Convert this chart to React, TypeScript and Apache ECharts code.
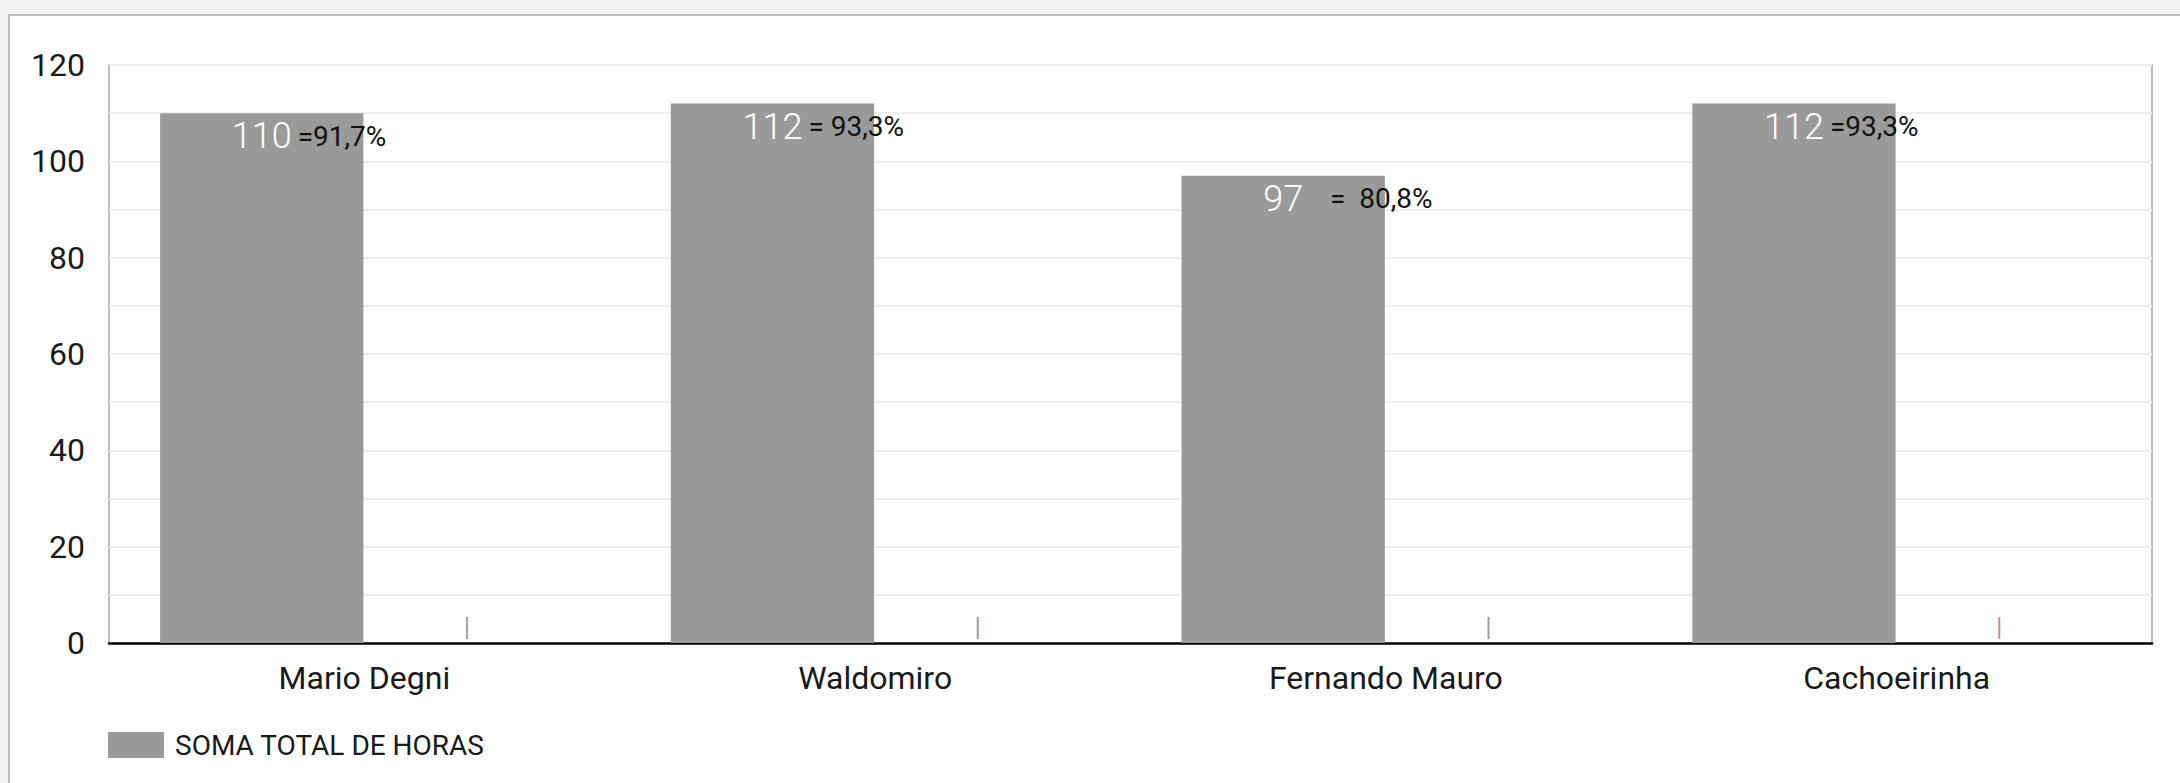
import React, { useEffect, useRef } from "react";
import * as echarts from "echarts";

const categories = ["Mario Degni", "Waldomiro", "Fernando Mauro", "Cachoeirinha"];
const totalHours = [110, 112, 97, 112];
const percentTexts = [
  "=91,7%",
  "=\u00a093,3%",
  "\u00a0\u00a0\u00a0=\u00a0\u00a080,8%",
  "=93,3%",
];
const emptySeries = [0, 0, 0, 0];
const seriesName = "SOMA TOTAL DE HORAS";

const PCT_FONT = 28;
const PCT_PAD = 6;

function measure(text: string, font: string): number {
  const c = document.createElement("canvas");
  const ctx = c.getContext("2d");
  if (!ctx) return text.length * 14;
  ctx.font = font;
  return ctx.measureText(text).width;
}

export default function App() {
  const ref = useRef<HTMLDivElement>(null);

  useEffect(() => {
    if (!ref.current) return;
    const chart = echarts.init(ref.current, undefined, { renderer: "svg" });

    const rich: any = {
      v: {
        color: "#ffffff",
        fontSize: 36,
        fontWeight: 300,
        fontFamily: "Roboto",
        verticalAlign: "middle",
      },
      p: {
        padding: [0, 0, 0, PCT_PAD],
        color: "#111111",
        fontSize: PCT_FONT,
        fontFamily: "Roboto",
        verticalAlign: "middle",
      },
    };
    percentTexts.forEach((t, i) => {
      rich["s" + i] = { width: measure(t, `${PCT_FONT}px Roboto`) + PCT_PAD };
    });

    chart.setOption({
      animation: false,
      textStyle: { fontFamily: "Roboto" },
      grid: {
        left: 109,
        top: 65,
        right: 28,
        bottom: 140,
        show: true,
        borderColor: "#bdbdbd",
        borderWidth: 2,
        backgroundColor: "transparent",
      },
      legend: {
        data: [seriesName],
        left: 108,
        top: 731,
        padding: 0,
        itemWidth: 56,
        itemHeight: 26,
        icon: "rect",
        textStyle: {
          fontSize: 28,
          color: "#1a1a1a",
          fontFamily: "Roboto",
          padding: [0, 0, 0, 6],
        },
      },
      xAxis: {
        type: "category",
        data: categories,
        axisTick: { show: false },
        axisLine: { show: true, lineStyle: { color: "#000", width: 2.5 } },
        axisLabel: { fontSize: 32, color: "#1a1a1a", margin: 19 },
        splitLine: { show: false },
      },
      yAxis: {
        type: "value",
        min: 0,
        max: 120,
        interval: 20,
        axisLine: { show: false },
        axisTick: { show: false },
        axisLabel: { fontSize: 32, color: "#1a1a1a", margin: 24 },
        splitLine: { show: true, lineStyle: { color: "#eeeeee", width: 2 } },
        minorTick: { show: false, splitNumber: 2 },
        minorSplitLine: { show: true, lineStyle: { color: "#eeeeee", width: 2 } },
      },
      series: [
        {
          name: seriesName,
          type: "bar",
          data: totalHours,
          barCategoryGap: "20%",
          barGap: "1%",
          itemStyle: { color: "#9a9a9a" },
          label: {
            show: true,
            position: "insideTop",
            distance: 5,
            formatter: (p: any) =>
              `{s${p.dataIndex}|}{v|${p.value}}{p|${percentTexts[p.dataIndex]}}`,
            rich,
          },
        },
        {
          name: "meta",
          type: "bar",
          data: emptySeries,
          barCategoryGap: "20%",
          barGap: "1%",
          itemStyle: { color: "#9a9a9a" },
          label: {
            show: true,
            position: "top",
            distance: 3,
            formatter: "|",
            color: "#9e9e9e",
            fontSize: 26,
          },
        },
      ],
    });
    return () => chart.dispose();
  }, []);

  return (
    <div
      style={{
        position: "absolute",
        left: 0,
        top: 0,
        width: 2180,
        height: 783,
        overflow: "hidden",
        background: "#f3f3f3",
      }}
    >
      <div
        style={{
          position: "absolute",
          left: 8,
          top: 14,
          width: 2300,
          height: 900,
          background: "#ffffff",
          borderLeft: "2px solid #bdbdbd",
          borderTop: "2px solid #bdbdbd",
        }}
      />
      <div
        ref={ref}
        style={{ position: "absolute", left: 0, top: 0, width: 2180, height: 783 }}
      />
    </div>
  );
}
